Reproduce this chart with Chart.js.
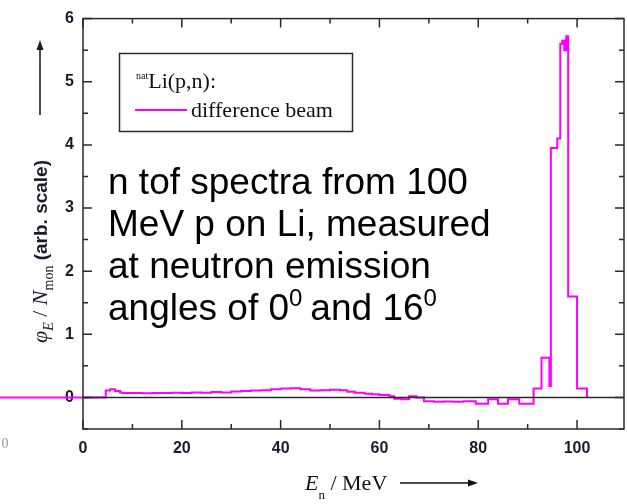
<!DOCTYPE html>
<html>
<head>
<meta charset="utf-8">
<script src="https://cdn.jsdelivr.net/npm/chart.js@4/dist/chart.umd.min.js"></script>
<style>
  html, body { margin: 0; padding: 0; background: #fff; }
  #wrap { width: 627px; height: 504px; }
</style>
</head>
<body>
<div id="wrap"><canvas id="chart" width="627" height="504"></canvas></div>
<script>
// histogram bins: lower edge in MeV and the difference-beam value of that bin
const binEdges = [-17, 4.6, 5.5, 6.5, 7.5, 8, 10, 12, 14, 16, 18, 20, 22, 24, 26, 28, 30, 32, 34, 36,
  38, 40, 42, 44, 46, 48, 50, 52, 53.5, 55, 57, 58.5, 60, 62, 63, 64.5, 66, 67.5, 69, 71,
  73, 75, 77, 79.5, 82, 84, 86, 88.3, 91.2, 92.8, 94.4, 94.7, 96.0, 96.6, 97.0, 97.4, 97.8, 98.2, 100.0, 102.0];
const diffBeam = [0, 0.11, 0.13, 0.1, 0.08, 0.07, 0.07, 0.065, 0.07, 0.07, 0.075, 0.07, 0.08, 0.075, 0.085, 0.08, 0.095, 0.1, 0.11, 0.115,
  0.13, 0.14, 0.145, 0.13, 0.11, 0.115, 0.12, 0.115, 0.09, 0.075, 0.06, 0.05, 0.04, 0.02, -0.02, -0.03, 0.02, 0.0, -0.06, -0.07,
  -0.065, -0.07, -0.06, -0.1, -0.03, -0.1, -0.03, -0.1, 0.14, 0.63, 0.18, 3.95, 4.1, 5.6, 5.65, 5.5, 5.72, 1.6, 0.14, 0];

// axis ranges and labelled ticks
const xRange = [0, 109.5];
const yRange = [-0.5, 6];
const xLabelled = [0, 20, 40, 60, 80, 100];
const yLabelled = [0, 1, 2, 3, 4, 5, 6];

const noteLines = ['n tof spectra from 100', 'MeV p on Li, measured', 'at neutron emission'];

const MAGENTA = '#ff00ff';
const INK = '#1a1a2e';
const SERIF = '"Liberation Serif", "Times New Roman", serif';
const SANS = '"Liberation Sans", Arial, sans-serif';

// draw a sequence of text pieces with their own font and vertical shift
function runs(ctx, x, y, parts) {
  parts.forEach(p => {
    ctx.font = p.font;
    ctx.fillText(p.t, x, y + (p.dy || 0));
    x += ctx.measureText(p.t).width + (p.gap || 0);
  });
  return x;
}

function arrow(ctx, x1, y1, x2, y2) {
  const ang = Math.atan2(y2 - y1, x2 - x1);
  ctx.beginPath();
  ctx.moveTo(x1, y1);
  ctx.lineTo(x2 - 8 * Math.cos(ang), y2 - 8 * Math.sin(ang));
  ctx.stroke();
  ctx.save();
  ctx.translate(x2, y2);
  ctx.rotate(ang);
  ctx.beginPath();
  ctx.moveTo(0, 0);
  ctx.lineTo(-10, -3.5);
  ctx.lineTo(-10, 3.5);
  ctx.closePath();
  ctx.fill();
  ctx.restore();
}

// frame, zero line and inward tick marks on all four sides
const framePlugin = {
  id: 'frame',
  afterDatasetsDraw(chart) {
    const { ctx, chartArea: a, scales: { x, y } } = chart;
    ctx.save();
    ctx.strokeStyle = '#2a2a2a';
    ctx.lineWidth = 1.5;
    const y0 = y.getPixelForValue(0);
    ctx.beginPath();
    ctx.moveTo(a.left, y0);
    ctx.lineTo(a.right, y0);
    ctx.stroke();
    ctx.strokeRect(a.left, a.top, a.right - a.left, a.bottom - a.top);
    ctx.beginPath();
    x.ticks.forEach(t => {
      const px = x.getPixelForValue(t.value);
      const len = xLabelled.includes(t.value) ? 9 : 5;
      ctx.moveTo(px, a.bottom); ctx.lineTo(px, a.bottom - len);
      ctx.moveTo(px, a.top); ctx.lineTo(px, a.top + len);
    });
    y.ticks.forEach(t => {
      const py = y.getPixelForValue(t.value);
      const len = yLabelled.includes(t.value) ? 9 : 5;
      ctx.moveTo(a.left, py); ctx.lineTo(a.left + len, py);
      ctx.moveTo(a.right, py); ctx.lineTo(a.right - len, py);
    });
    ctx.stroke();
    ctx.restore();
  },
  afterDraw(chart) {
    const { ctx } = chart;
    ctx.save();
    ctx.textBaseline = 'alphabetic';
    ctx.textAlign = 'left';

    // legend box
    ctx.strokeStyle = '#2a2a2a';
    ctx.lineWidth = 1.5;
    ctx.strokeRect(119.5, 53.5, 233, 78);
    ctx.fillStyle = '#111';
    runs(ctx, 136, 79, [
      { t: 'nat', font: '10px ' + SERIF, dy: 0 },
      { t: 'Li(p,n):', font: '22px ' + SERIF, dy: 9 }
    ]);
    ctx.strokeStyle = MAGENTA;
    ctx.lineWidth = 2;
    ctx.beginPath();
    ctx.moveTo(135, 110);
    ctx.lineTo(187, 110);
    ctx.stroke();
    ctx.font = '22px ' + SERIF;
    ctx.fillText('difference beam', 191, 117);

    // note inside the plot
    ctx.fillStyle = '#000';
    ctx.font = '37px ' + SANS;
    noteLines.forEach((s, i) => ctx.fillText(s, 108, 194 + i * 42));
    runs(ctx, 108, 320, [
      { t: 'angles of 0', font: '37px ' + SANS },
      { t: '0', font: '24px ' + SANS, dy: -14, gap: 8 },
      { t: 'and 16', font: '37px ' + SANS },
      { t: '0', font: '24px ' + SANS, dy: -14 }
    ]);

    // x axis title with arrow
    ctx.fillStyle = '#111';
    ctx.strokeStyle = '#111';
    ctx.lineWidth = 1.5;
    runs(ctx, 305, 490, [
      { t: 'E', font: 'italic 22px ' + SERIF },
      { t: 'n', font: '13px ' + SERIF, dy: 9 },
      { t: ' / MeV', font: '22px ' + SERIF }
    ]);
    arrow(ctx, 400, 483, 478, 483);

    // y axis title, rotated, with arrow
    ctx.save();
    ctx.translate(47, 343);
    ctx.rotate(-Math.PI / 2);
    ctx.fillStyle = INK;
    ctx.strokeStyle = '#111';
    const end = runs(ctx, 0, 0, [
      { t: 'φ', font: 'italic 22px ' + SERIF },
      { t: 'E', font: 'italic 14px ' + SERIF, dy: 6 },
      { t: ' / ', font: '22px ' + SERIF },
      { t: 'N', font: 'italic 22px ' + SERIF },
      { t: 'mon', font: '14px ' + SERIF, dy: 6 },
      { t: ' (arb. scale)', font: 'bold 19px ' + SANS }
    ]);
    arrow(ctx, Math.max(end + 8, 228), -7, 303, -7);
    ctx.restore();

    // stray digit at the lower left edge
    ctx.fillStyle = '#9a9a9a';
    ctx.font = '14px ' + SERIF;
    ctx.textAlign = 'center';
    ctx.fillText('0', 5, 448);
    ctx.restore();
  }
};

const points = binEdges.map((e, i) => ({ x: e, y: diffBeam[i] }));

new Chart(document.getElementById('chart'), {
  type: 'line',
  data: {
    datasets: [{
      label: 'difference beam',
      data: points,
      stepped: 'before',
      borderColor: MAGENTA,
      borderWidth: 2,
      pointRadius: 0,
      fill: false,
      clip: false
    }]
  },
  options: {
    responsive: false,
    animation: false,
    layout: { padding: { top: 15, right: 3, left: 0, bottom: 0 } },
    plugins: { legend: { display: false }, tooltip: { enabled: false } },
    scales: {
      x: {
        type: 'linear',
        min: xRange[0],
        max: xRange[1],
        grid: { display: false, drawTicks: false },
        border: { display: false },
        ticks: {
          stepSize: 10,
          includeBounds: false,
          autoSkip: false,
          maxRotation: 0,
          padding: 10,
          color: INK,
          font: { family: SANS, size: 16, weight: 'bold' },
          callback: v => (xLabelled.includes(v) ? String(v) : '')
        },
        afterFit: s => { s.height = 75; }
      },
      y: {
        min: yRange[0],
        max: yRange[1],
        grid: { display: false, drawTicks: false },
        border: { display: false },
        ticks: {
          stepSize: 0.5,
          includeBounds: false,
          autoSkip: false,
          padding: 9,
          color: INK,
          font: { family: SANS, size: 16, weight: 'bold' },
          callback: v => (yLabelled.includes(v) ? String(v) : '')
        },
        afterFit: s => { s.width = 83; }
      }
    }
  },
  plugins: [framePlugin]
});
</script>
</body>
</html>
